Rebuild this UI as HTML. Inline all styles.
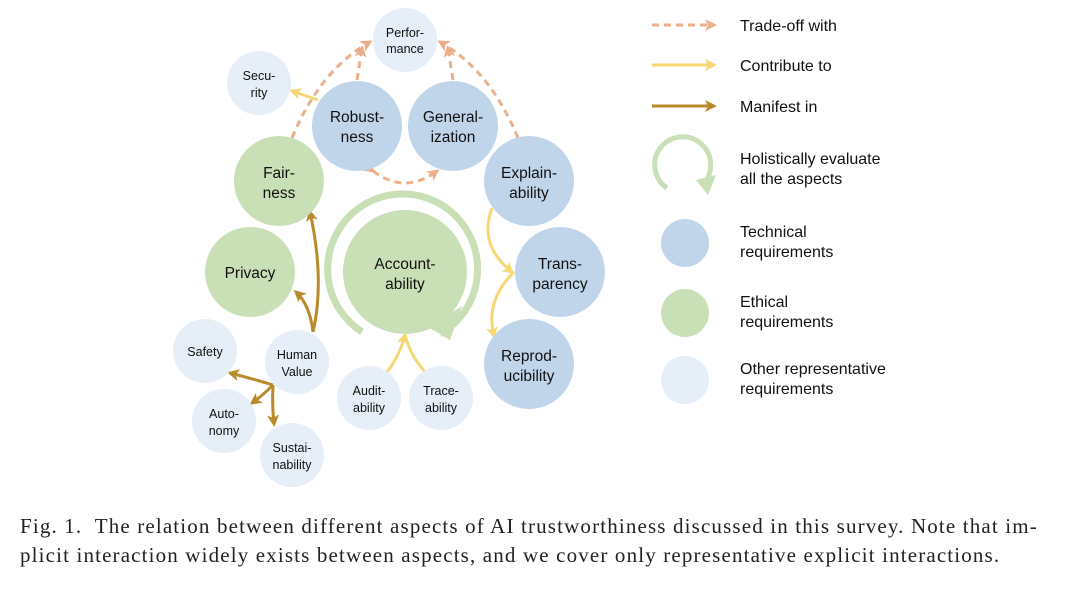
<!DOCTYPE html>
<html><head><meta charset="utf-8"><style>
body{margin:0;background:#fff;width:1080px;height:601px;overflow:hidden}
svg text{font-family:"Liberation Sans",Arial,sans-serif;fill:#111}
.cap{position:absolute;left:20px;top:512px;font-family:"Liberation Serif",serif;font-size:21px;letter-spacing:1.15px;line-height:29px;color:#222;width:1060px;white-space:nowrap}
</style></head><body>
<svg width="1080" height="601" style="position:absolute;left:0;top:0">
<defs>
<marker id="ao" markerWidth="12" markerHeight="12" refX="9" refY="6" orient="auto" markerUnits="userSpaceOnUse"><path d="M0,0 L12,6 L0,12 L3,6z" fill="#ebb08a"/></marker>
<marker id="ay" markerWidth="12" markerHeight="12" refX="9" refY="6" orient="auto" markerUnits="userSpaceOnUse"><path d="M0,0 L12,6 L0,12 L3,6z" fill="#f7d774"/></marker>
<marker id="ab" markerWidth="12" markerHeight="12" refX="9" refY="6" orient="auto" markerUnits="userSpaceOnUse"><path d="M0,0 L12,6 L0,12 L3,6z" fill="#b88a2a"/></marker>
</defs>
<g fill="none" stroke-width="3">
<path d="M292,138 Q320,70 370,42" stroke="#ebb08a" stroke-dasharray="7,5" marker-end="url(#ao)"/>
<path d="M357,80 L362,48" stroke="#ebb08a" stroke-dasharray="7,5" marker-end="url(#ao)"/>
<path d="M453,80 L448,48" stroke="#ebb08a" stroke-dasharray="7,5" marker-end="url(#ao)"/>
<path d="M518,138 Q490,70 440,42" stroke="#ebb08a" stroke-dasharray="7,5" marker-end="url(#ao)"/>
<path d="M373,171 Q405,195 437,171" stroke="#ebb08a" stroke-dasharray="7,5" marker-end="url(#ao)" marker-start="url(#ao)"/>
<path d="M318,100 L292,91" stroke="#f7d774" marker-end="url(#ay)"/>
<path d="M492,208 Q478,245 512,272" stroke="#f7d774" marker-end="url(#ay)"/>
<path d="M514,272 Q485,300 494,336" stroke="#f7d774" marker-end="url(#ay)"/>
<path d="M387,372 Q400,355 405,335" stroke="#f7d774" marker-end="url(#ay)"/>
<path d="M425,372 Q410,355 405,335" stroke="#f7d774"/>
<path d="M313,332 Q325,280 310,212" stroke="#b88a2a" marker-end="url(#ab)"/>
<path d="M313,332 Q310,305 296,292" stroke="#b88a2a" marker-end="url(#ab)"/>
<path d="M273,385 Q250,378 230,373" stroke="#b88a2a" marker-end="url(#ab)"/>
<path d="M273,385 Q262,396 252,403" stroke="#b88a2a" marker-end="url(#ab)"/>
<path d="M273,385 Q272,405 274,424" stroke="#b88a2a" marker-end="url(#ab)"/>
</g>
<path d="M362,332 A75,75 0 1 1 440,334" fill="none" stroke="#c9dfb6" stroke-width="7"/>
<path d="M428,327 L462,306 L450,340z" fill="#c9dfb6"/>
<g>
<circle cx="405" cy="40" r="32" fill="#e6eef7"/>
<circle cx="259" cy="83" r="32" fill="#e6eef7"/>
<circle cx="357" cy="126" r="45" fill="#c0d5ea"/>
<circle cx="453" cy="126" r="45" fill="#c0d5ea"/>
<circle cx="279" cy="181" r="45" fill="#c9dfb6"/>
<circle cx="529" cy="181" r="45" fill="#c0d5ea"/>
<circle cx="250" cy="272" r="45" fill="#c9dfb6"/>
<circle cx="405" cy="272" r="62" fill="#c9dfb6"/>
<circle cx="560" cy="272" r="45" fill="#c0d5ea"/>
<circle cx="529" cy="364" r="45" fill="#c0d5ea"/>
<circle cx="205" cy="351" r="32" fill="#e6eef7"/>
<circle cx="297" cy="362" r="32" fill="#e6eef7"/>
<circle cx="369" cy="398" r="32" fill="#e6eef7"/>
<circle cx="441" cy="398" r="32" fill="#e6eef7"/>
<circle cx="224" cy="421" r="32" fill="#e6eef7"/>
<circle cx="292" cy="455" r="32" fill="#e6eef7"/>
</g>
<g text-anchor="middle" font-size="12.5">
<text x="405" y="37">Perfor-</text><text x="405" y="53">mance</text>
<text x="259" y="80">Secu-</text><text x="259" y="97">rity</text>
<text x="205" y="356">Safety</text>
<text x="297" y="359">Human</text><text x="297" y="376">Value</text>
<text x="369" y="395">Audit-</text><text x="369" y="412">ability</text>
<text x="441" y="395">Trace-</text><text x="441" y="412">ability</text>
<text x="224" y="418">Auto-</text><text x="224" y="435">nomy</text>
<text x="292" y="452">Sustai-</text><text x="292" y="469">nability</text>
</g>
<g text-anchor="middle" font-size="15.5">
<text x="357" y="122">Robust-</text><text x="357" y="142">ness</text>
<text x="453" y="122">General-</text><text x="453" y="142">ization</text>
<text x="279" y="178">Fair-</text><text x="279" y="198">ness</text>
<text x="529" y="178">Explain-</text><text x="529" y="198">ability</text>
<text x="250" y="278">Privacy</text>
<text x="405" y="269">Account-</text><text x="405" y="289">ability</text>
<text x="560" y="269">Trans-</text><text x="560" y="289">parency</text>
<text x="529" y="361">Reprod-</text><text x="529" y="381">ucibility</text>
</g>
<g fill="none" stroke-width="3">
<path d="M652,25 L714,25" stroke="#ebb08a" stroke-dasharray="7,5" marker-end="url(#ao)"/>
<path d="M652,65 L714,65" stroke="#f7d774" marker-end="url(#ay)"/>
<path d="M652,106 L714,106" stroke="#b88a2a" marker-end="url(#ab)"/>
<path d="M667,188 A28,28 0 1 1 704,183" stroke="#c9dfb6" stroke-width="5"/>
</g>
<path d="M696,180 L716,175 L708,195z" fill="#c9dfb6"/>
<circle cx="685" cy="243" r="24" fill="#c0d5ea"/>
<circle cx="685" cy="313" r="24" fill="#c9dfb6"/>
<circle cx="685" cy="380" r="24" fill="#e6eef7"/>
<g font-size="16">
<text x="740" y="31">Trade-off with</text>
<text x="740" y="71">Contribute to</text>
<text x="740" y="112">Manifest in</text>
<text x="740" y="164">Holistically evaluate</text><text x="740" y="184">all the aspects</text>
<text x="740" y="237">Technical</text><text x="740" y="257">requirements</text>
<text x="740" y="307">Ethical</text><text x="740" y="327">requirements</text>
<text x="740" y="374">Other representative</text><text x="740" y="394">requirements</text>
</g>
</svg>
<div class="cap">Fig. 1.&nbsp; The relation between different aspects of AI trustworthiness discussed in this survey. Note that im-<br>plicit interaction widely exists between aspects, and we cover only representative explicit interactions.</div>
</body></html>
